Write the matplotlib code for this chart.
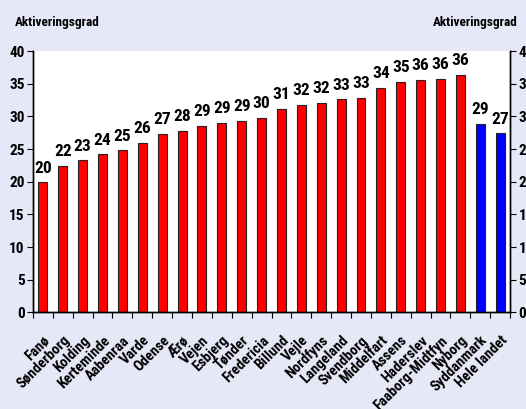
import matplotlib.pyplot as plt
import numpy as np

plt.rcParams['font.family'] = ['Roboto Condensed', 'Liberation Sans', 'DejaVu Sans']
plt.rcParams['font.weight'] = 'bold'

# Aktiveringsgrad pr. kommune
kommuner = ['Fanø', 'Sønderborg', 'Kolding', 'Kerteminde', 'Aabenraa', 'Varde',
            'Odense', 'Ærø', 'Vejen', 'Esbjerg', 'Tønder', 'Fredericia',
            'Billund', 'Vejle', 'Nordfyns', 'Langeland', 'Svendborg', 'Middelfart',
            'Assens', 'Haderslev', 'Faaborg-Midtfyn', 'Nyborg',
            'Syddanmark', 'Hele landet']
grad = [19.9, 22.4, 23.3, 24.2, 24.8, 26.0, 27.3, 27.8, 28.6, 29.0, 29.3, 29.8,
        31.2, 31.8, 32.1, 32.6, 32.9, 34.4, 35.3, 35.6, 35.8, 36.4,
        28.9, 27.4]
etiketter = [20, 22, 23, 24, 25, 26, 27, 28, 29, 29, 29, 30,
             31, 32, 32, 33, 33, 34, 35, 36, 36, 36, 29, 27]
farver = ['#FF0000'] * 22 + ['#0000FF'] * 2

bg = '#E6E8F8'
fig = plt.figure(figsize=(5.26, 4.09), dpi=100, facecolor=bg)
ax = fig.add_axes([0.0627, 0.236, 0.907, 0.639])
ax.set_facecolor('white')

x = np.arange(len(kommuner))
ax.bar(x, grad, width=0.45, color=farver, edgecolor='#222222', linewidth=0.8)

for xi, v, t in zip(x, grad, etiketter):
    ax.annotate(str(t), xy=(xi, v), xytext=(0, 7), textcoords='offset points',
                ha='center', va='baseline', fontsize=12.5, fontweight='bold')

ax.set_xlim(-0.5, len(kommuner) - 0.5)
ax.set_ylim(0, 40)
ax.set_yticks(np.arange(0, 41, 5))

# ticks mellem kategorierne, navne under midten
ax.set_xticks(np.arange(-0.5, len(kommuner), 1))
ax.set_xticklabels([])
ax.set_xticks(x, minor=True)
ax.set_xticklabels(kommuner, minor=True, rotation=45, ha='right',
                   rotation_mode='anchor', fontsize=10.5, fontweight='bold')
ax.tick_params(axis='x', which='minor', length=0, pad=15)
ax.tick_params(axis='x', which='major', length=4, direction='out')
ax.tick_params(axis='y', length=4, direction='out', labelsize=11, pad=2)

ax2 = ax.twinx()
ax2.set_ylim(0, 40)
ax2.set_yticks(np.arange(0, 41, 5))
ax2.tick_params(axis='y', length=4, direction='out', labelsize=11, pad=2)

for a in (ax, ax2):
    a.spines['top'].set_visible(False)
    for s in ('left', 'right', 'bottom'):
        a.spines[s].set_linewidth(1.0)

fig.text(0.028, 0.944, 'Aktiveringsgrad', fontsize=9.5, fontweight='bold', va='center')
fig.text(0.823, 0.946, 'Aktiveringsgrad', fontsize=9.5, fontweight='bold', va='center')

fig.savefig('out.png', dpi=100, facecolor=bg)
